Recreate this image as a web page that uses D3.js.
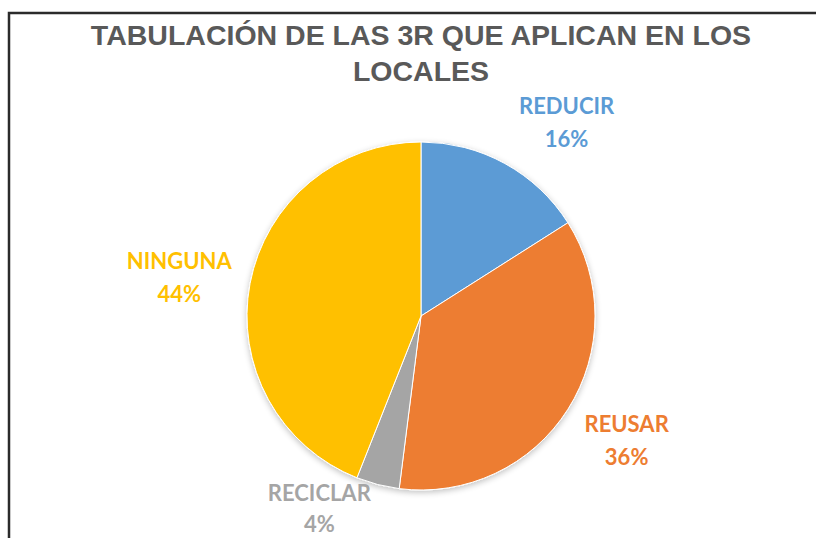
<!DOCTYPE html>
<html>
<head>
<meta charset="utf-8">
<script src="https://cdn.jsdelivr.net/npm/d3@7"></script>
<style>
  body { margin: 0; background: #fff; }
</style>
</head>
<body>
<div id="chart"></div>
<script>
// data
var categories = ["REDUCIR", "REUSAR", "RECICLAR", "NINGUNA"];
var values = [16, 36, 4, 44];
var colors = ["#5B9BD5", "#ED7D31", "#A5A5A5", "#FFC000"];
var titleLines = ["TABULACIÓN DE LAS 3R QUE APLICAN EN LOS", "LOCALES"];

var width = 816,
  height = 538;
var cx = 421,
  cy = 316,
  radius = 174;

var svg = d3
  .select("#chart")
  .append("svg")
  .attr("width", width)
  .attr("height", height);

svg.append("rect").attr("width", width).attr("height", height).attr("fill", "#fff");

// frame (only top and left visible in the crop)
svg
  .append("path")
  .attr("d", "M9," + height + "V13H" + width)
  .attr("fill", "none")
  .attr("stroke", "#2b2b2b")
  .attr("stroke-width", 2.5);

// title
svg
  .append("g")
  .selectAll("text")
  .data(titleLines)
  .enter()
  .append("text")
  .attr("x", cx)
  .attr("y", function (d, i) {
    return 45 + i * 36;
  })
  .attr("text-anchor", "middle")
  .style("font-family", "'Liberation Sans', Arial, sans-serif")
  .style("font-weight", "bold")
  .style("font-size", "28.5px")
  .style("fill", "#595959")
  .text(function (d) {
    return d;
  });

var data = categories.map(function (c, i) {
  return { name: c, value: values[i], color: colors[i] };
});

var pie = d3
  .pie()
  .sort(null)
  .value(function (d) {
    return d.value;
  });

var arc = d3.arc().innerRadius(0).outerRadius(radius);

var g = svg.append("g").attr("transform", "translate(" + cx + "," + cy + ")");

// soft shadow
var defs = svg.append("defs");
var f = defs.append("filter").attr("id", "shadow").attr("x", "-20%").attr("y", "-20%").attr("width", "140%").attr("height", "140%");
f.append("feGaussianBlur").attr("in", "SourceAlpha").attr("stdDeviation", 3);
f.append("feOffset").attr("dx", 0).attr("dy", 2).attr("result", "b");
f.append("feComponentTransfer").append("feFuncA").attr("type", "linear").attr("slope", 0.25);
var m = f.append("feMerge");
m.append("feMergeNode");
m.append("feMergeNode").attr("in", "SourceGraphic");

var arcs = pie(data);

g.append("g")
  .attr("filter", "url(#shadow)")
  .selectAll("path")
  .data(arcs)
  .enter()
  .append("path")
  .attr("d", arc)
  .style("fill", function (d) {
    return d.data.color;
  })
  .style("stroke", "#fff")
  .style("stroke-width", 1);

// labels (best-fit like, pushed outside)
var labelArc = d3.arc().innerRadius(240).outerRadius(240);
var nudge = {
  REDUCIR: [30, 12],
  REUSAR: [3, -9],
  RECICLAR: [-42, -44],
  NINGUNA: [-6, 1]
};

var labels = g
  .append("g")
  .selectAll("text")
  .data(arcs)
  .enter()
  .append("text")
  .attr("transform", function (d) {
    var p = labelArc.centroid(d);
    var n = nudge[d.data.name];
    return "translate(" + (p[0] + n[0]) + "," + (p[1] + n[1]) + ")";
  })
  .attr("text-anchor", "middle")
  .style("font-family", "Lato, 'Open Sans', sans-serif")
  .style("font-weight", "bold")
  .style("font-size", "22px")
  .style("fill", function (d) {
    return d.data.color;
  });

labels
  .append("tspan")
  .attr("x", 0)
  .attr("dy", "-0.15em")
  .text(function (d) {
    return d.data.name;
  });
labels
  .append("tspan")
  .attr("x", 0)
  .attr("dy", function (d) {
    return d.data.name === "RECICLAR" ? "1.42em" : "1.5em";
  })
  .text(function (d) {
    return d.data.value + "%";
  });
</script>
</body>
</html>
